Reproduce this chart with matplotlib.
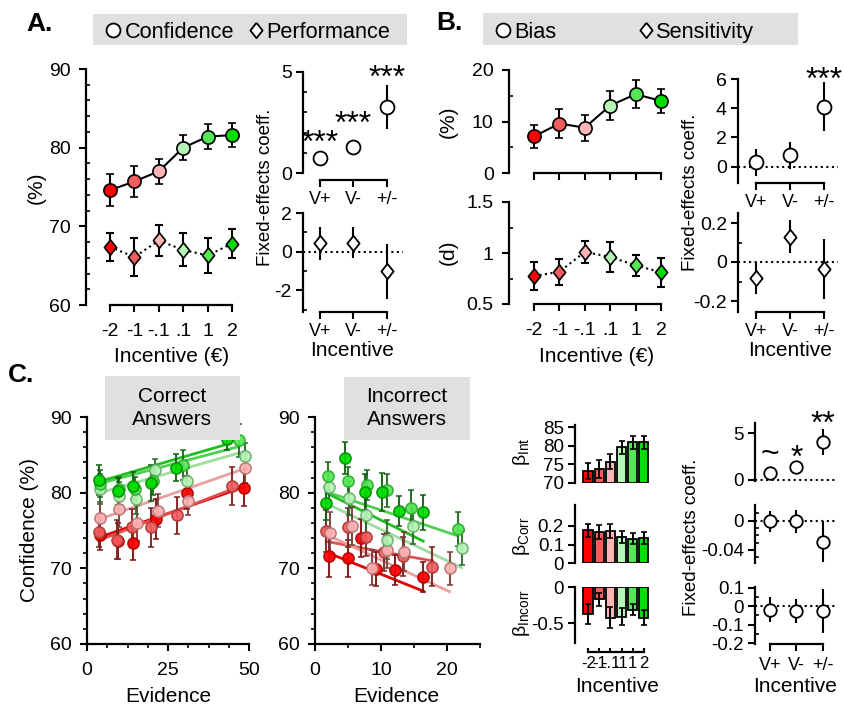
import numpy as np
import matplotlib
matplotlib.use("Agg")
import matplotlib.pyplot as plt
from matplotlib.patches import Rectangle
from matplotlib.lines import Line2D
from matplotlib.ticker import FixedLocator

plt.rcParams['font.family'] = ['Liberation Sans', 'DejaVu Sans']
plt.rcParams['mathtext.fontset'] = 'custom'
plt.rcParams['mathtext.rm'] = 'Liberation Sans'
plt.rcParams['axes.unicode_minus'] = False

# ---------------- data ----------------
incentive_labels = ['-2', '-1', '-.1', '.1', '1', '2']
coef_labels = ['V+', 'V-', '+/-']

conf = [74.6, 75.7, 77.0, 80.0, 81.4, 81.6]
conf_err = [2.0, 2.0, 1.6, 1.6, 1.6, 1.5]
perf = [67.4, 66.1, 68.2, 67.0, 66.3, 67.8]
perf_err = [1.8, 2.4, 1.95, 2.1, 2.2, 1.85]

coefA_conf = [0.74, 1.27, 3.27]
coefA_conf_err = [0.12, 0.2, 1.08]
coefA_conf_sig = ['***', '***', '***']
coefA_conf_sig_y = [1.95, 2.9, 5.2]
coefA_perf = [0.43, 0.46, -1.02]
coefA_perf_err = [0.86, 0.8, 1.43]

bias = [7.1, 9.6, 8.8, 13.1, 15.3, 14.0]
bias_err = [2.3, 2.8, 2.5, 2.8, 2.7, 2.3]
sens = [0.774, 0.816, 1.01, 0.96, 0.88, 0.81]
sens_err = [0.135, 0.125, 0.11, 0.145, 0.105, 0.145]

coefB_bias = [0.30, 0.78, 4.11]
coefB_bias_err = [0.94, 0.93, 1.7]
coefB_bias_sig = ['', '', '***']
coefB_bias_sig_y = [0, 0, 6.6]
coefB_sens = [-0.083, 0.13, -0.034]
coefB_sens_err = [0.082, 0.083, 0.154]

# Correct answers: evidence bins per incentive
corr_x = [[4.0, 9.5, 14.2, 21.2, 31.0, 48.5],
          [3.6, 9.3, 14.0, 19.6, 27.9, 44.9],
          [4.0, 9.9, 15.3, 21.9, 31.3, 48.7],
          [4.0, 10.0, 15.0, 21.0, 30.8, 48.9],
          [4.0, 9.8, 14.8, 20.3, 29.5, 46.9],
          [3.6, 9.5, 14.3, 19.8, 27.5, 43.3]]
corr_y = [[74.4, 73.6, 73.3, 76.5, 80.0, 80.6],
          [74.8, 73.8, 75.5, 75.4, 77.0, 80.9],
          [76.6, 77.9, 76.0, 77.6, 78.9, 83.3],
          [80.5, 79.6, 79.2, 83.0, 81.5, 84.9],
          [81.2, 80.5, 80.5, 81.5, 83.7, 86.9],
          [81.7, 80.2, 80.9, 81.3, 83.3, 87.1]]
corr_e = [[2.0, 2.4, 2.2, 2.6, 2.2, 2.4],
          [2.0, 2.6, 2.4, 2.6, 2.4, 2.5],
          [2.2, 2.4, 2.4, 2.2, 1.9, 2.0],
          [2.0, 1.8, 2.0, 1.5, 1.8, 1.6],
          [1.8, 1.6, 1.6, 1.8, 2.0, 2.2],
          [2.0, 1.8, 1.8, 2.4, 1.8, 1.4]]
corr_fit_int = [73.53, 73.1, 75.93, 79.5, 80.77, 81.0]
corr_fit_slope = [0.149, 0.164, 0.149, 0.1225, 0.1136, 0.125]

inc_x = [[2.1, 5.0, 7.0, 9.3, 12.1, 16.4],
         [1.7, 5.0, 7.7, 10.4, 13.3, 17.8],
         [2.3, 5.6, 8.7, 10.9, 13.5, 20.4],
         [2.1, 5.2, 7.7, 10.9, 14.9, 22.2],
         [2.0, 5.0, 7.9, 10.9, 14.5, 21.6],
         [1.7, 4.5, 7.6, 10.2, 12.7, 16.4]]
inc_y = [[71.6, 71.3, 74.0, 69.9, 69.8, 68.9],
         [74.9, 75.4, 74.1, 72.1, 71.6, 70.2],
         [74.7, 75.6, 70.1, 72.4, 72.2, 70.0],
         [80.7, 79.3, 77.1, 73.8, 75.6, 72.7],
         [82.2, 81.5, 81.0, 80.3, 78.0, 75.2],
         [78.6, 84.6, 80.1, 80.1, 77.6, 77.4]]
inc_e = [[2.8, 2.5, 2.5, 2.3, 2.0, 2.0],
         [2.8, 2.6, 2.5, 2.4, 2.6, 2.6],
         [2.8, 2.5, 2.3, 2.3, 2.6, 2.2],
         [2.0, 2.3, 2.4, 2.6, 2.4, 2.3],
         [1.8, 1.9, 2.0, 2.2, 2.4, 2.3],
         [2.2, 2.1, 2.4, 2.5, 2.0, 2.3]]
inc_fit_int = [72.73, 73.83, 75.15, 79.27, 80.61, 80.71]
inc_fit_slope = [-0.35, -0.16, -0.404, -0.413, -0.292, -0.434]

b_int = [73.2, 73.8, 75.7, 79.5, 80.9, 80.9]
b_int_err = [2.2, 2.4, 2.0, 1.8, 1.8, 1.7]
b_corr = [0.176, 0.169, 0.173, 0.142, 0.131, 0.136]
b_corr_err = [0.035, 0.037, 0.036, 0.032, 0.030, 0.030]
b_incorr = [-0.37, -0.167, -0.42, -0.41, -0.31, -0.42]
b_incorr_err = [0.14, 0.09, 0.14, 0.12, 0.08, 0.10]

coefC_int = [0.71, 1.43, 4.1]
coefC_int_err = [0.2, 0.2, 1.37]
coefC_int_sig = ['~', '*', '**']
coefC_int_sig_y = [2.9, 3.4, 7.0]
coefC_corr = [-0.001, -0.001, -0.029]
coefC_corr_err = [0.0145, 0.016, 0.028]
coefC_incorr = [-0.018, -0.027, -0.027]
coefC_incorr_err = [0.068, 0.065, 0.12]

# ---------------- styles ----------------
fills = ['#ff0000', '#f25c5c', '#ffb5b5', '#b5f5b5', '#55e855', '#00dd00']
edges = ['#b00000', '#b03a3a', '#b87474', '#6fb06f', '#2fae2f', '#009000']
ecols = ['#7a1010', '#7a2020', '#7a3a3a', '#2a6a2a', '#1a6a1a', '#106010']
lcols = ['#e00000', '#e05050', '#e8a0a0', '#a0dca0', '#50d050', '#20c020']
diamond = [(0, 1), (0.8, 0), (0, -1), (-0.8, 0), (0, 1)]

W, H = 845, 709
fig = plt.figure(figsize=(W / 100, H / 100), dpi=100)


def axpx(l, t, r, b):
    ax = fig.add_axes([l / W, 1 - b / H, (r - l) / W, (b - t) / H])
    ax.patch.set_alpha(0)
    for s in ['top', 'right']:
        ax.spines[s].set_visible(False)
    for s in ['left', 'bottom']:
        ax.spines[s].set_linewidth(1.6)
    ax.tick_params(which='major', direction='out', length=5, width=1.5,
                   labelsize=14, pad=6)
    ax.tick_params(which='minor', direction='in', length=3, width=1.2)
    return ax


def lims(pa, va, pb, vb, p0, p1):
    s = (vb - va) / (pb - pa)
    return (va + (p0 - pa) * s, va + (p1 - pa) * s)


def ftext(x, y, s, **kw):
    kw.setdefault('fontsize', 15)
    return fig.text(x / W, 1 - y / H, s, **kw)


def frect(l, t, r, b):
    fig.patches.append(Rectangle((l / W, 1 - b / H), (r - l) / W, (b - t) / H,
                                 transform=fig.transFigure, facecolor='#e0e0e0',
                                 edgecolor='none', zorder=0))


def fmarker(x, y, m, ms):
    fig.add_artist(Line2D([x / W], [1 - y / H], marker=m, ms=ms, mfc='white',
                          mec='k', mew=1.3, transform=fig.transFigure, ls='none'))


def sig(ax, x, y, s, fs=23):
    # y is the centre of the glyphs; shift baseline below it
    frac = 0.33 if s.startswith('~') else 0.58
    ax.annotate(s, (x, y), xytext=(0, -frac * fs), textcoords='offset points',
                ha='center', va='baseline', fontsize=fs, annotation_clip=False)


xi = np.arange(6)
xc = np.arange(3)

# ---------------- Panel A ----------------
ftext(26, 31, 'A.', fontsize=19, fontweight='bold')
frect(93, 14, 407, 45)
fmarker(113, 30, 'o', 10)
ftext(125, 38, 'Confidence', va='baseline', fontsize=15.7)
fmarker(256, 30, diamond, 11)
ftext(266, 38, 'Performance', va='baseline', fontsize=15.7)

ax = axpx(86, 69, 245, 305)
ax.set_xlim(lims(110, 0, 232, 5, 86, 245))
ax.set_ylim(60, 90)
ax.spines['left'].set_bounds(60, 90)
ax.spines['bottom'].set_bounds(0, 5)
ax.plot(xi, conf, '-', color='k', lw=1.5, zorder=2)
ax.plot(xi, perf, ':', color='k', lw=1.5, zorder=2)
for i in range(6):
    ax.errorbar(xi[i], conf[i], yerr=conf_err[i], fmt='o', ms=9.5, mfc=fills[i],
                mec='k', mew=1.2, ecolor='k', elinewidth=1.5, capsize=3,
                capthick=1.5, zorder=3, clip_on=False)
    ax.errorbar(xi[i], perf[i], yerr=perf_err[i], fmt='none', ecolor='k',
                elinewidth=1.5, capsize=3, capthick=1.5, zorder=3)
    ax.plot(xi[i], perf[i], marker=diamond, ms=11, mfc=fills[i], mec='k',
            mew=1.2, zorder=4, ls='none')
ax.set_yticks([60, 70, 80, 90])
ax.yaxis.set_minor_locator(FixedLocator(np.arange(60, 91, 2)))
ax.set_xticks(xi)
ax.set_xticklabels(incentive_labels)
ax.tick_params(axis='x', pad=8)
ftext(36, 188, '(%)', rotation=90, ha='center', va='center')
ftext(172, 356, 'Incentive (€)', ha='center', va='center')

ax = axpx(303, 72, 405, 180)
ax.set_xlim(lims(320, 0, 387, 2, 303, 405))
ax.set_ylim(lims(173, 0, 72, 5, 180, 72))
ax.spines['left'].set_bounds(0, 5)
ax.spines['bottom'].set_bounds(0, 2)
ax.errorbar(xc, coefA_conf, yerr=coefA_conf_err, fmt='o', ms=10, mfc='white',
            mec='k', mew=1.3, ecolor='k', elinewidth=1.5, capsize=0, zorder=3)
for i in range(3):
    sig(ax, xc[i], coefA_conf_sig_y[i], coefA_conf_sig[i])
ax.set_yticks([0, 5])
ax.yaxis.set_minor_locator(FixedLocator([1, 2, 3, 4]))
ax.set_xticks(xc)
ax.set_xticklabels(coef_labels)
ax.tick_params(labelsize=14, pad=3)
ax.tick_params(axis='x', labelsize=13)

ax = axpx(303, 213, 405, 312)
ax.set_xlim(lims(320, 0, 387, 2, 303, 405))
ax.set_ylim(lims(251.7, 0, 213, 2, 312, 213))
ax.spines['bottom'].set_bounds(0, 2)
ax.axhline(0, xmin=0, xmax=0.98, ls=':', color='k', lw=1.5, zorder=1)
ax.errorbar(xc, coefA_perf, yerr=coefA_perf_err, fmt='none', ecolor='k',
            elinewidth=1.5, capsize=0, zorder=2)
ax.plot(xc, coefA_perf, marker=diamond, ms=11, mfc='white', mec='k', mew=1.3,
        ls='none', zorder=3)
ax.set_yticks([-2, 0, 2])
ax.yaxis.set_minor_locator(FixedLocator([-3, -1, 1]))
ax.set_xticks(xc)
ax.set_xticklabels(coef_labels)
ax.tick_params(labelsize=14, pad=3)
ax.tick_params(axis='x', labelsize=13)
ftext(266, 187, 'Fixed-effects coeff.', rotation=90, ha='center', va='center',
      fontsize=13.5)
ftext(352, 350, 'Incentive', ha='center', va='center')

# ---------------- Panel B ----------------
ftext(436, 30, 'B.', fontsize=19, fontweight='bold')
frect(483, 13, 798, 45)
fmarker(503, 30, 'o', 10)
ftext(514, 38, 'Bias', va='baseline', fontsize=15.7)
fmarker(646, 30, diamond, 11)
ftext(656, 38, 'Sensitivity', va='baseline', fontsize=15.7)

ax = axpx(509, 70, 670, 173)
ax.set_xlim(lims(534, 0, 661, 5, 509, 670))
ax.set_ylim(0, 20)
ax.spines['bottom'].set_bounds(0, 5)
ax.plot(xi, bias, '-', color='k', lw=1.5, zorder=2)
for i in range(6):
    ax.errorbar(xi[i], bias[i], yerr=bias_err[i], fmt='o', ms=9.5, mfc=fills[i],
                mec='k', mew=1.2, ecolor='k', elinewidth=1.5, capsize=3,
                capthick=1.5, zorder=3)
ax.set_yticks([0, 10, 20])
ax.yaxis.set_minor_locator(FixedLocator([5, 15]))
ax.set_xticks(xi)
ax.set_xticklabels([])

ax = axpx(509, 202, 670, 304)
ax.set_xlim(lims(534, 0, 661, 5, 509, 670))
ax.set_ylim(0.5, 1.5)
ax.spines['bottom'].set_bounds(0, 5)
ax.plot(xi, sens, ':', color='k', lw=1.5, zorder=2)
for i in range(6):
    ax.errorbar(xi[i], sens[i], yerr=sens_err[i], fmt='none', ecolor='k',
                elinewidth=1.5, capsize=3, capthick=1.5, zorder=3)
    ax.plot(xi[i], sens[i], marker=diamond, ms=11, mfc=fills[i], mec='k',
            mew=1.2, zorder=4, ls='none')
ax.set_yticks([0.5, 1, 1.5])
ax.set_yticklabels(['0.5', '1', '1.5'])
ax.yaxis.set_minor_locator(FixedLocator([0.75, 1.25]))
ax.set_xticks(xi)
ax.set_xticklabels(incentive_labels)
ax.tick_params(axis='x', pad=8)
ftext(448, 122, '(%)', rotation=90, ha='center', va='center')
ftext(448, 252, '(d)', rotation=90, ha='center', va='center')
ftext(597, 356, 'Incentive (€)', ha='center', va='center')

ax = axpx(738, 79, 840, 183)
ax.set_xlim(lims(756, 0, 824, 2, 738, 840))
ax.set_ylim(lims(166.7, 0, 79, 6, 183, 79))
ax.spines['bottom'].set_bounds(0, 2)
ax.axhline(0, xmin=0, xmax=0.98, ls=':', color='k', lw=1.5, zorder=1)
ax.errorbar(xc, coefB_bias, yerr=coefB_bias_err, fmt='o', ms=10, mfc='white',
            mec='k', mew=1.3, ecolor='k', elinewidth=1.5, capsize=0, zorder=3)
for i in range(3):
    if coefB_bias_sig[i]:
        sig(ax, xc[i], coefB_bias_sig_y[i], coefB_bias_sig[i])
ax.set_yticks([0, 2, 4, 6])
ax.set_xticks(xc)
ax.set_xticklabels(coef_labels)
ax.tick_params(labelsize=14, pad=3)
ax.tick_params(axis='x', labelsize=13)

ax = axpx(738, 213, 840, 312)
ax.set_xlim(lims(756, 0, 824, 2, 738, 840))
ax.set_ylim(lims(262, 0, 223, 0.2, 312, 213))
ax.spines['bottom'].set_bounds(0, 2)
ax.axhline(0, xmin=0, xmax=0.98, ls=':', color='k', lw=1.5, zorder=1)
ax.errorbar(xc, coefB_sens, yerr=coefB_sens_err, fmt='none', ecolor='k',
            elinewidth=1.5, capsize=0, zorder=2)
ax.plot(xc, coefB_sens, marker=diamond, ms=11, mfc='white', mec='k', mew=1.3,
        ls='none', zorder=3)
ax.set_yticks([-0.2, 0, 0.2])
ax.set_yticklabels(['-0.2', '0', '0.2'])
ax.yaxis.set_minor_locator(FixedLocator([-0.1, 0.1]))
ax.set_xticks(xc)
ax.set_xticklabels(coef_labels)
ax.tick_params(labelsize=14, pad=3)
ax.tick_params(axis='x', labelsize=13)
ftext(691, 192, 'Fixed-effects coeff.', rotation=90, ha='center', va='center',
      fontsize=13.5)
ftext(790, 350, 'Incentive', ha='center', va='center')

# ---------------- Panel C ----------------
ftext(8, 382, 'C.', fontsize=19, fontweight='bold')


def scatter_panel(ax, xs, ys, es, a, b):
    for i in range(6):
        x = np.array(xs[i])
        ends = np.array([x.min(), x.max()])
        ax.plot(ends, a[i] + b[i] * ends, color=lcols[i], lw=2, zorder=2)
    for i in range(6):
        ax.errorbar(xs[i], ys[i], yerr=es[i], fmt='o', ms=8, mfc=fills[i],
                    mec=edges[i], mew=1.2, ecolor=ecols[i], elinewidth=1.5,
                    capsize=2.5, capthick=1.5, zorder=3, alpha=0.92)


frect(105, 376, 240, 440)
ftext(172, 408, 'Correct\nAnswers', ha='center', va='center', linespacing=1.3)
ax = axpx(87, 417, 252, 644)
ax.set_xlim(0, (252 - 86.7) / 3.246)
ax.set_ylim(60, 90)
ax.spines['bottom'].set_bounds(0, 50)
scatter_panel(ax, corr_x, corr_y, corr_e, corr_fit_int, corr_fit_slope)
ax.set_xticks([0, 25, 50])
ax.xaxis.set_minor_locator(FixedLocator(np.arange(0, 50.1, 6.25)))
ax.set_yticks([60, 70, 80, 90])
ax.yaxis.set_minor_locator(FixedLocator(np.arange(60, 91, 2)))
ax.tick_params(which='minor', direction='out', length=3)
ax.tick_params(axis='x', pad=8)
ftext(30, 530, 'Confidence (%)', rotation=90, ha='center', va='center')
ftext(168, 697, 'Evidence', ha='center', va='center')

frect(344, 377, 470, 440)
ftext(407, 408, 'Incorrect\nAnswers', ha='center', va='center', linespacing=1.3)
ax = axpx(315, 417, 480, 644)
ax.set_xlim(0, 25)
ax.set_ylim(60, 90)
ax.spines['bottom'].set_bounds(0, 25)
scatter_panel(ax, inc_x, inc_y, inc_e, inc_fit_int, inc_fit_slope)
ax.set_xticks([0, 10, 20])
ax.xaxis.set_minor_locator(FixedLocator([5, 15, 25]))
ax.set_yticks([60, 70, 80, 90])
ax.yaxis.set_minor_locator(FixedLocator(np.arange(60, 91, 2)))
ax.tick_params(which='minor', direction='out', length=3)
ax.tick_params(axis='x', pad=8)
ftext(396, 697, 'Evidence', ha='center', va='center')

# bars
bx = lims(588.2, 0, 643.7, 5, 575, 652)
ax = axpx(575, 425, 652, 482.7)
ax.set_xlim(bx)
ax.set_ylim(lims(482.7, 70, 427, 85, 482.7, 425))
ax.spines['bottom'].set_visible(False)
ax.bar(xi, np.array(b_int) - 70, bottom=70, width=0.85, color=fills,
       edgecolor='k', lw=1.3)
ax.errorbar(xi, b_int, yerr=b_int_err, fmt='none', ecolor='k', elinewidth=1.4,
            capsize=2, capthick=1.2)
ax.set_yticks([70, 75, 80, 85])
ax.set_xticks([])
ax.tick_params(labelsize=13.5, pad=3)

ax = axpx(575, 505, 652, 563.3)
ax.set_xlim(bx)
ax.set_ylim(lims(563.3, 0, 526, 0.2, 563.3, 505))
ax.spines['bottom'].set_visible(False)
ax.bar(xi, b_corr, width=0.85, color=fills, edgecolor='k', lw=1.3)
ax.errorbar(xi, b_corr, yerr=b_corr_err, fmt='none', ecolor='k', elinewidth=1.4,
            capsize=2, capthick=1.2)
ax.set_yticks([0, 0.1, 0.2])
ax.set_yticklabels(['0', '0.1', '0.2'])
ax.set_xticks([])
ax.tick_params(labelsize=13.5, pad=3)

ax = axpx(575, 587, 652, 652)
ax.set_xlim(bx)
ax.set_ylim(lims(587.3, 0, 623.3, -0.5, 652, 587))
ax.spines['left'].set_bounds(-0.77, 0)
ax.spines['bottom'].set_bounds(0, 5)
ax.bar(xi, b_incorr, width=0.85, color=fills, edgecolor='k', lw=1.3)
ax.errorbar(xi, b_incorr, yerr=b_incorr_err, fmt='none', ecolor='k',
            elinewidth=1.4, capsize=2, capthick=1.2)
ax.set_yticks([-0.5, 0])
ax.set_yticklabels(['-0.5', '0'])
ax.set_xticks(xi)
ax.set_xticklabels(incentive_labels)
ax.tick_params(labelsize=13.5, pad=3)
ax.tick_params(axis='x', labelsize=12, pad=3, direction='in', length=3)
ftext(522, 452, r'β$_{\rm Int}$', rotation=90, ha='center', va='center', fontsize=14)
ftext(522, 536, r'β$_{\rm Corr}$', rotation=90, ha='center', va='center', fontsize=14)
ftext(522, 613, r'β$_{\rm Incorr}$', rotation=90, ha='center', va='center', fontsize=14)
ftext(617, 686, 'Incentive', ha='center', va='center')

# C coefficients
cx = lims(770, 0, 823, 2, 755, 840)
ax = axpx(755, 423, 840, 481)
ax.set_xlim(cx)
ax.set_ylim(lims(480, 0, 433.3, 5, 481, 423))
ax.spines['bottom'].set_visible(False)
ax.axhline(0, xmin=0, xmax=0.97, ls=':', color='k', lw=1.5, zorder=1)
ax.errorbar(xc, coefC_int, yerr=coefC_int_err, fmt='o', ms=9, mfc='white',
            mec='k', mew=1.3, ecolor='k', elinewidth=1.5, capsize=0, zorder=3)
for i in range(3):
    sig(ax, xc[i], coefC_int_sig_y[i], coefC_int_sig[i])
ax.set_yticks([0, 5])
ax.set_xticks([])
ax.tick_params(labelsize=13.5, pad=3)

ax = axpx(755, 505, 840, 563)
ax.set_xlim(cx)
ax.set_ylim(lims(520.7, 0, 550, -0.04, 563, 505))
ax.spines['bottom'].set_visible(False)
ax.axhline(0, xmin=0, xmax=0.97, ls=':', color='k', lw=1.5, zorder=1)
ax.errorbar(xc, coefC_corr, yerr=coefC_corr_err, fmt='o', ms=9, mfc='white',
            mec='k', mew=1.3, ecolor='k', elinewidth=1.5, capsize=0, zorder=3)
ax.set_yticks([-0.04, 0])
ax.set_yticklabels(['-0.04', '0'])
ax.yaxis.set_minor_locator(FixedLocator([-0.05, -0.03, -0.02, -0.01, 0.01]))
ax.set_xticks([])
ax.tick_params(labelsize=13.5, pad=3)

ax = axpx(755, 587, 840, 644)
ax.set_xlim(cx)
ax.set_ylim(lims(606.2, 0, 587.7, 0.1, 644, 587))
ax.spines['bottom'].set_bounds(0, 2)
ax.axhline(0, xmin=0, xmax=0.97, ls=':', color='k', lw=1.5, zorder=1)
ax.errorbar(xc, coefC_incorr, yerr=coefC_incorr_err, fmt='o', ms=9, mfc='white',
            mec='k', mew=1.3, ecolor='k', elinewidth=1.5, capsize=0, zorder=3)
ax.set_yticks([-0.2, -0.1, 0, 0.1])
ax.set_yticklabels(['-0.2', '-0.1', '0', '0.1'])
ax.yaxis.set_minor_locator(FixedLocator([-0.15, -0.05, 0.05]))
ax.set_xticks(xc)
ax.set_xticklabels(coef_labels)
ax.tick_params(labelsize=13.5, pad=3)
ax.tick_params(axis='x', labelsize=13, pad=4)
ftext(692, 537, 'Fixed-effects coeff.', rotation=90, ha='center', va='center',
      fontsize=13.5)
ftext(795, 686, 'Incentive', ha='center', va='center')

fig.savefig('out.png', dpi=100)
